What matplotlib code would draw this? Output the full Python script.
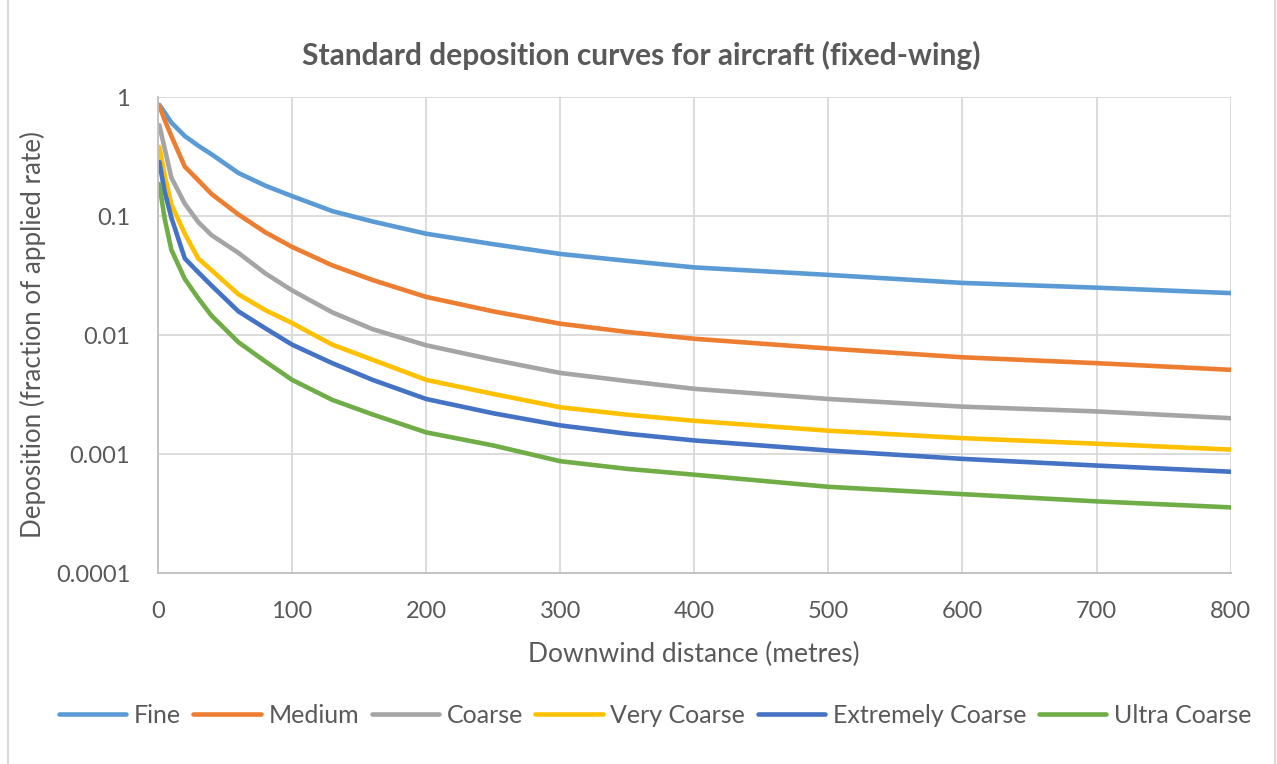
import matplotlib
matplotlib.use("Agg")
import matplotlib.pyplot as plt
from matplotlib.lines import Line2D

plt.rcParams["font.family"] = ["Lato", "DejaVu Sans"]

# downwind distance (m) and deposition (fraction of applied rate)
distance = [1, 5, 10, 20, 30, 40, 60, 80, 100, 130, 160, 200, 250, 300, 350, 400, 500, 600, 700, 800]
fine = [0.86, 0.74, 0.61, 0.47, 0.39, 0.33, 0.23, 0.18, 0.147, 0.11, 0.09, 0.071,
        0.058, 0.048, 0.042, 0.037, 0.032, 0.0274, 0.025, 0.0225]
medium = [0.85, 0.64, 0.47, 0.26, 0.2, 0.153, 0.103, 0.073, 0.055, 0.0385, 0.029, 0.0209,
          0.0158, 0.01245, 0.0106, 0.0093, 0.0077, 0.0065, 0.0058, 0.0051]
coarse = [0.58, 0.37, 0.21, 0.127, 0.089, 0.069, 0.049, 0.033, 0.0237, 0.0155, 0.0112, 0.0082,
          0.0062, 0.0048, 0.0041, 0.00353, 0.0029, 0.0025, 0.00228, 0.002]
very_coarse = [0.38, 0.22, 0.125, 0.071, 0.044, 0.035, 0.022, 0.0162, 0.0126, 0.0083, 0.0062, 0.0042,
               0.0032, 0.00247, 0.00214, 0.0019, 0.00157, 0.00136, 0.00122, 0.00109]
extremely_coarse = [0.285, 0.16, 0.097, 0.044, 0.0337, 0.026, 0.0158, 0.0114, 0.0083, 0.0058, 0.0042, 0.0029,
                    0.0022, 0.00174, 0.00148, 0.0013, 0.00107, 0.00091, 0.0008, 0.00071]
ultra_coarse = [0.185, 0.095, 0.052, 0.0296, 0.0204, 0.0145, 0.0087, 0.006, 0.0042, 0.00285, 0.00215, 0.00152,
                0.00118, 0.00087, 0.00075, 0.00067, 0.00053, 0.00046, 0.0004, 0.000356]

series = [
    ("Fine", fine, "#5B9BD5"),
    ("Medium", medium, "#ED7D31"),
    ("Coarse", coarse, "#A5A5A5"),
    ("Very Coarse", very_coarse, "#FFC000"),
    ("Extremely Coarse", extremely_coarse, "#4472C4"),
    ("Ultra Coarse", ultra_coarse, "#70AD47"),
]

x_ticks = [0, 100, 200, 300, 400, 500, 600, 700, 800]
y_ticks = [1, 0.1, 0.01, 0.001, 0.0001]
y_tick_labels = ["1", "0.1", "0.01", "0.001", "0.0001"]

TEXT = "#595959"
GRID = "#D9D9D9"

fig = plt.figure(figsize=(12.77, 7.64), dpi=100)
ax = fig.add_axes([0.1237, 0.25, 0.84, 0.623])

for name, vals, color in series:
    ax.plot(distance, vals, color=color, lw=3.3, label=name, solid_capstyle="round")

ax.set_yscale("log")
ax.set_xlim(0, 800)
ax.set_ylim(0.0001, 1)
ax.set_xticks(x_ticks)
ax.set_yticks(y_ticks)
ax.set_yticklabels(y_tick_labels)
ax.minorticks_off()
ax.tick_params(axis="both", length=0, labelsize=17, labelcolor=TEXT)
ax.tick_params(axis="y", pad=20)
ax.tick_params(axis="x", pad=20)
ax.grid(True, color=GRID, lw=1.3)
ax.set_axisbelow(True)
for side in ["top", "right"]:
    ax.spines[side].set_visible(False)
for side in ["left", "bottom"]:
    ax.spines[side].set_color("#BFBFBF")
    ax.spines[side].set_linewidth(1.3)

ax.set_xlabel("Downwind distance (metres)", fontsize=19, color=TEXT)
ax.xaxis.label.set_va("center")
ax.xaxis.set_label_coords(0.5, -0.172)
ax.set_ylabel("Deposition (fraction of applied rate)", fontsize=18.7, color=TEXT)
ax.yaxis.label.set_va("center")
ax.yaxis.set_label_coords(-0.1165, 0.5)

fig.text(0.502, 0.928, "Standard deposition curves for aircraft (fixed-wing)",
         ha="center", va="center", fontsize=21.5, fontweight="bold", color=TEXT)

fig.legend(loc="center", bbox_to_anchor=(0.513, 0.064), ncol=6, frameon=False,
           fontsize=18, handlelength=2.7, handletextpad=0.3, columnspacing=0.5,
           labelcolor=TEXT)

# chart-area border, as in the spreadsheet export
for xf in (8 / 1277, 1275 / 1277):
    fig.add_artist(Line2D([xf, xf], [0, 1], transform=fig.transFigure, color=GRID, lw=1.5))

fig.savefig("out.png", dpi=100)
